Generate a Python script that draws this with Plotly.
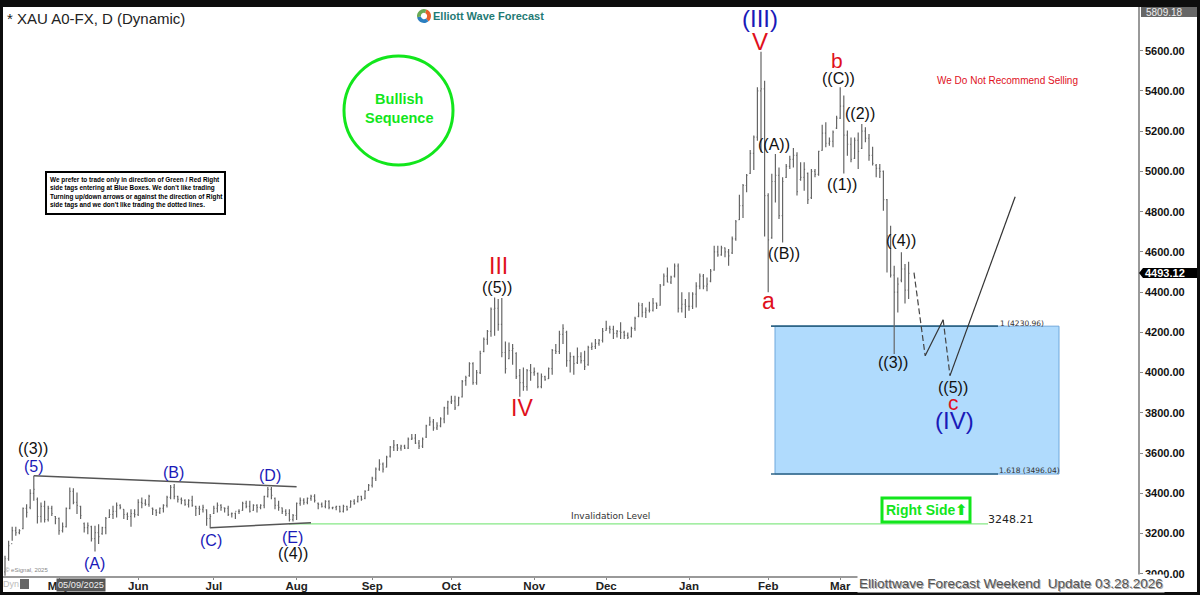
import pandas as pd
import plotly.graph_objects as go

# daily XAU bars, 2025-04-10 to 2026-03-27
dates = pd.bdate_range("2025-04-10", "2026-03-27")

opens = [3010, 3075, 3150, 3215, 3205, 3225, 3325, 3330, 3400, 3370, 3285, 3335, 3270, 3325, 3285, 3275, 3215, 3235, 3325, 3410, 3355, 3335, 3250, 3230, 3235, 3175, 3205, 3200, 3230, 3280, 3295, 3310, 3340, 3320, 3295, 3285, 3300, 3295, 3355, 3350, 3345, 3325, 3315, 3305, 3325, 3340, 3380, 3430, 3385, 3370, 3365, 3345, 3365, 3335, 3325, 3320, 3318, 3275, 3300, 3325, 3340, 3328, 3325, 3298, 3300, 3310, 3315, 3350, 3335, 3315, 3340, 3330, 3340, 3385, 3420, 3375, 3340, 3328, 3310, 3300, 3270, 3290, 3350, 3365, 3355, 3375, 3385, 3350, 3345, 3335, 3360, 3328, 3330, 3335, 3310, 3335, 3330, 3360, 3360, 3385, 3375, 3415, 3440, 3475, 3520, 3545, 3530, 3585, 3630, 3640, 3625, 3635, 3625, 3670, 3675, 3650, 3635, 3680, 3740, 3755, 3725, 3735, 3770, 3825, 3855, 3860, 3836, 3880, 3960, 3985, 4045, 3950, 4000, 4105, 4165, 4205, 4315, 4320, 4240, 4100, 4070, 4110, 4095, 3985, 3950, 3930, 4010, 4000, 3995, 3930, 3980, 3970, 4020, 4110, 4105, 4190, 4200, 4060, 4080, 4050, 4080, 4060, 4040, 4125, 4130, 4145, 4160, 4210, 4220, 4215, 4195, 4205, 4200, 4185, 4180, 4220, 4280, 4335, 4300, 4310, 4310, 4345, 4335, 4435, 4480, 4450, 4480, 4530, 4320, 4340, 4330, 4330, 4390, 4430, 4480, 4430, 4455, 4510, 4600, 4585, 4620, 4600, 4595, 4665, 4760, 4830, 4930, 4990, 5090, 5170, 5400, 5410, 4880, 4670, 4950, 4980, 4780, 4970, 5025, 5060, 5080, 4960, 4970, 4990, 4870, 5000, 4985, 5105, 5190, 5140, 5150, 5215, 5265, 5325, 5180, 5135, 5065, 5155, 5115, 5200, 5165, 5080, 5030, 5015, 5000, 4860, 4680, 4485, 4400, 4460, 4515, 4410]
highs = [3090, 3164, 3234, 3234, 3222, 3330, 3346, 3421, 3487, 3380, 3355, 3363, 3338, 3338, 3288, 3280, 3255, 3330, 3429, 3426, 3404, 3338, 3255, 3255, 3239, 3239, 3247, 3234, 3283, 3321, 3338, 3355, 3346, 3321, 3305, 3321, 3321, 3371, 3380, 3371, 3393, 3330, 3321, 3330, 3346, 3388, 3442, 3446, 3388, 3380, 3371, 3371, 3388, 3338, 3338, 3343, 3321, 3297, 3338, 3355, 3346, 3330, 3338, 3305, 3305, 3321, 3358, 3363, 3363, 3346, 3346, 3346, 3388, 3432, 3432, 3380, 3363, 3330, 3321, 3321, 3297, 3355, 3380, 3376, 3380, 3393, 3396, 3355, 3355, 3366, 3366, 3333, 3338, 3338, 3343, 3338, 3366, 3371, 3388, 3388, 3416, 3446, 3482, 3529, 3570, 3553, 3587, 3636, 3665, 3645, 3642, 3642, 3678, 3695, 3695, 3665, 3678, 3741, 3781, 3769, 3753, 3778, 3831, 3860, 3885, 3885, 3880, 3963, 3985, 4051, 4051, 4013, 4109, 4175, 4212, 4324, 4374, 4366, 4371, 4155, 4150, 4142, 4101, 4018, 4026, 4018, 4043, 4026, 4001, 3996, 3985, 4026, 4117, 4142, 4208, 4241, 4208, 4101, 4084, 4125, 4101, 4109, 4134, 4150, 4167, 4167, 4222, 4258, 4233, 4233, 4212, 4250, 4208, 4200, 4228, 4278, 4349, 4346, 4324, 4352, 4371, 4349, 4440, 4493, 4523, 4482, 4543, 4543, 4399, 4366, 4399, 4399, 4449, 4493, 4490, 4473, 4515, 4631, 4631, 4631, 4622, 4614, 4676, 4758, 4884, 4937, 4987, 5106, 5178, 5418, 5595, 5451, 4891, 4989, 5086, 5020, 4971, 5037, 5078, 5116, 5095, 5045, 5045, 4995, 5012, 5012, 5103, 5232, 5244, 5169, 5203, 5277, 5418, 5377, 5203, 5169, 5169, 5194, 5236, 5219, 5186, 5123, 5037, 5037, 5004, 4863, 4730, 4531, 4473, 4598, 4540, 4551]
lows = [2990, 3065, 3164, 3189, 3197, 3222, 3280, 3321, 3363, 3250, 3255, 3255, 3260, 3288, 3247, 3194, 3205, 3230, 3321, 3346, 3297, 3272, 3205, 3197, 3161, 3111, 3148, 3194, 3197, 3277, 3272, 3280, 3321, 3272, 3267, 3234, 3280, 3288, 3326, 3338, 3333, 3293, 3288, 3297, 3305, 3330, 3371, 3371, 3355, 3346, 3338, 3330, 3333, 3288, 3293, 3305, 3239, 3227, 3297, 3305, 3313, 3305, 3288, 3280, 3272, 3297, 3313, 3326, 3305, 3313, 3305, 3321, 3326, 3380, 3371, 3321, 3313, 3297, 3288, 3260, 3260, 3267, 3338, 3343, 3346, 3363, 3355, 3321, 3330, 3326, 3321, 3321, 3316, 3305, 3305, 3313, 3330, 3343, 3355, 3363, 3371, 3413, 3429, 3462, 3512, 3504, 3529, 3578, 3611, 3611, 3612, 3620, 3620, 3665, 3645, 3620, 3625, 3675, 3736, 3711, 3715, 3728, 3748, 3791, 3844, 3814, 3836, 3877, 3935, 3980, 3940, 3940, 3993, 4101, 4139, 4178, 4183, 4208, 4076, 3996, 4067, 4039, 3968, 3880, 3910, 3910, 3960, 3985, 3923, 3923, 3960, 3968, 3990, 4092, 4092, 4142, 4029, 4001, 3990, 4043, 4046, 4013, 4034, 4112, 4117, 4134, 4150, 4208, 4195, 4167, 4175, 4167, 4167, 4167, 4175, 4208, 4275, 4275, 4271, 4299, 4304, 4316, 4333, 4432, 4449, 4440, 4473, 4299, 4299, 4271, 4308, 4316, 4324, 4415, 4415, 4404, 4449, 4506, 4576, 4581, 4573, 4531, 4589, 4656, 4758, 4768, 4896, 4987, 5007, 5153, 5095, 4676, 4399, 4666, 4846, 4763, 4647, 4967, 5012, 5020, 4880, 4954, 4904, 4838, 4863, 4971, 4979, 5103, 5120, 5128, 5120, 5211, 5261, 4990, 5078, 5045, 5062, 5012, 5111, 5145, 5053, 5029, 4971, 4967, 4805, 4498, 4473, 4092, 4299, 4449, 4344, 4366]
closes = [3075, 3140, 3215, 3205, 3215, 3325, 3305, 3400, 3420, 3285, 3335, 3270, 3325, 3300, 3275, 3215, 3235, 3325, 3410, 3355, 3340, 3290, 3230, 3240, 3175, 3205, 3185, 3230, 3275, 3295, 3310, 3340, 3330, 3295, 3285, 3300, 3295, 3355, 3350, 3345, 3385, 3320, 3305, 3325, 3340, 3380, 3430, 3385, 3370, 3365, 3345, 3365, 3340, 3325, 3320, 3330, 3275, 3285, 3325, 3340, 3330, 3325, 3295, 3300, 3310, 3310, 3350, 3335, 3310, 3340, 3330, 3340, 3385, 3420, 3390, 3340, 3330, 3310, 3300, 3270, 3290, 3350, 3365, 3355, 3375, 3385, 3365, 3345, 3335, 3360, 3330, 3330, 3335, 3310, 3335, 3320, 3360, 3350, 3385, 3370, 3410, 3440, 3475, 3520, 3545, 3520, 3580, 3630, 3640, 3625, 3635, 3625, 3670, 3675, 3650, 3635, 3670, 3735, 3755, 3725, 3735, 3770, 3825, 3855, 3860, 3825, 3875, 3955, 3975, 4045, 3950, 4000, 4095, 4165, 4205, 4315, 4320, 4240, 4100, 4020, 4110, 4120, 3980, 3950, 3930, 4010, 4000, 4005, 3930, 3980, 3965, 4020, 4110, 4105, 4190, 4220, 4060, 4080, 4045, 4080, 4060, 4030, 4125, 4130, 4145, 4160, 4205, 4220, 4215, 4195, 4205, 4200, 4185, 4175, 4220, 4270, 4335, 4300, 4310, 4310, 4345, 4335, 4430, 4480, 4450, 4475, 4530, 4320, 4340, 4330, 4330, 4390, 4430, 4480, 4430, 4440, 4505, 4600, 4585, 4620, 4600, 4580, 4665, 4750, 4830, 4930, 4980, 5090, 5170, 5400, 5410, 4880, 4660, 4950, 4980, 4780, 4950, 5025, 5060, 5080, 4900, 4970, 5010, 4860, 5000, 4985, 5100, 5190, 5140, 5150, 5195, 5265, 5325, 5180, 5135, 5060, 5155, 5100, 5200, 5165, 5080, 5040, 5015, 5000, 4860, 4680, 4485, 4400, 4440, 4515, 4410, 4493.12]

tick_dates = ["2025-05-01", "2025-06-02", "2025-07-01", "2025-08-01", "2025-09-01", "2025-10-01",
              "2025-11-03", "2025-12-01", "2026-01-01", "2026-02-02", "2026-03-02"]
tick_labels = ["May", "Jun", "Jul", "Aug", "Sep", "Oct", "Nov", "Dec", "Jan", "Feb", "Mar"]
price_ticks = [3000, 3200, 3400, 3600, 3800, 4000, 4200, 4400, 4600, 4800, 5000, 5200, 5400, 5600]

fib_1 = 4230.96
fib_1618 = 3496.04
invalidation = 3248.21
last_price = 4493.12
top_price = 5809.18

# triangle lines and projected path, in bar number / price
upper_x, upper_y = [8, 81], [3488, 3433]
lower_x, lower_y = [57, 85], [3229, 3254]
dash_x = [252.5, 255.6, None, 260.6, 262.5]
dash_y = [4497, 4084, None, 4263, 3985]
solid_x = [255.6, 260.6, None, 262.5, 280.6]
solid_y = [4084, 4263, None, 3985, 4874]

BLUE = "#1a1ab8"
RED = "#e0101c"
BLACK = "#111111"
# wave labels: text, colour, font size, x and y in window pixels
wave_labels = [
    ("(III)", BLUE, 24, 760, 19), ("V", RED, 24, 760, 41), ("b", RED, 21, 837, 60),
    ("((C))", BLACK, 16, 838, 79), ("((2))", BLACK, 16, 860, 113), ("((A))", BLACK, 16, 774, 144),
    ("((1))", BLACK, 16, 842, 184), ("((B))", BLACK, 16, 784, 253), ("((4))", BLACK, 16, 901, 240),
    ("((3))", BLACK, 16, 893, 363), ("((5))", BLACK, 16, 953, 388), ("c", RED, 21, 953, 402),
    ("(IV)", BLUE, 24, 954, 420), ("a", RED, 23, 768, 301), ("III", RED, 23, 498, 266),
    ("((5))", BLACK, 16, 497, 287), ("IV", RED, 23, 522, 408), ("((3))", BLACK, 16, 33, 449),
    ("(5)", BLUE, 16, 34, 466), ("(A)", BLUE, 16, 94, 563), ("(B)", BLUE, 16, 173, 472),
    ("(C)", BLUE, 16, 211, 540), ("(D)", BLUE, 16, 270, 475), ("(E)", BLUE, 16, 292, 537),
    ("((4))", BLACK, 16, 293, 553),
]

FONT = "Liberation Sans"
LEFT, RIGHT, TOP, BOTTOM = 3, 1138, 7, 576


def fx(px):
    return (px - LEFT) / (RIGHT - LEFT)


def fy(py):
    return (BOTTOM - py) / (BOTTOM - TOP)


def bar_at(px):
    # bars are 3.6 px apart, first one at x=5
    return (px - 5) / 3.6


def label(fig, text, px, py, size, color, anchor="center", **kw):
    font = dict(family=kw.pop("family", FONT), size=size, color=color, shadow=kw.pop("shadow", "none"))
    fig.add_annotation(text=text, xref="paper", yref="paper", x=fx(px), y=fy(py), showarrow=False,
                       xanchor=anchor, yanchor="middle", font=font, **kw)


def box(fig, x0, y0, x1, y1, **kw):
    fig.add_shape(type="rect", xref="paper", yref="paper", x0=fx(x0), y0=fy(y0), x1=fx(x1), y1=fy(y1), **kw)


fig = go.Figure()

# fib box first so the bars sit on top
fig.add_shape(type="rect", x0=bar_at(775), x1=bar_at(1059), y0=fib_1618, y1=fib_1, layer="below",
              fillcolor="#b0dbfd", line=dict(color="#6fa8dc", width=1))
for level in [fib_1, fib_1618]:
    fig.add_shape(type="line", x0=bar_at(771), x1=bar_at(998), y0=level, y1=level, layer="below",
                  line=dict(color="#2f6586", width=1.6))
fig.add_shape(type="line", x0=bar_at(289), x1=bar_at(988), y0=invalidation, y1=invalidation, layer="below",
              line=dict(color="#86e886", width=1.2))

fig.add_trace(go.Ohlc(x=list(range(len(highs))), open=opens, high=highs, low=lows, close=closes, tickwidth=0.25,
                      increasing_line=dict(color="#666666", width=1.2), decreasing_line=dict(color="#666666", width=1.2),
                      showlegend=False))

for xs, ys in [(upper_x, upper_y), (lower_x, lower_y)]:
    fig.add_trace(go.Scatter(x=xs, y=ys, mode="lines", line=dict(color="#555555", width=1.5), showlegend=False))
fig.add_trace(go.Scatter(x=dash_x, y=dash_y, mode="lines", line=dict(color="#444444", width=1.2, dash="6px,3px"), showlegend=False))
fig.add_trace(go.Scatter(x=solid_x, y=solid_y, mode="lines", line=dict(color="#333333", width=1.2), showlegend=False))

# small logo ring next to the brand name (pie domain is relative to the plot area)
fig.add_trace(go.Pie(values=[1, 1, 1], hole=0.45, sort=False, textinfo="none", showlegend=False, direction="clockwise",
                     rotation=20, marker=dict(colors=["#e8602c", "#2b7fc0", "#6aaa55"]),
                     domain=dict(x=[fx(417), fx(431)], y=[fy(23), fy(9)])))

for text, color, size, px, py in wave_labels:
    label(fig, text, px, py, size, color)

label(fig, "* XAU A0-FX, D (Dynamic)", 5, 19, 15, "#222222", anchor="left")
label(fig, "<b>Elliott Wave Forecast</b>", 488, 16, 11, "#1f7a74")

# bullish circle
fig.add_shape(type="circle", xref="paper", yref="paper", x0=fx(344), x1=fx(453), y0=fy(165), y1=fy(56),
              line=dict(color="#12e61c", width=3))
label(fig, "<b>Bullish<br>Sequence</b>", 399, 108, 14.5, "#12e61c")

label(fig, "We Do Not Recommend Selling", 1007, 81, 10, RED)

box(fig, 46, 172, 225, 214, fillcolor="white", line=dict(color="black", width=2))
label(fig, "<b>We prefer to trade only in direction of Green / Red Right<br>side tags entering at Blue Boxes. We don't like trading<br>"
           "Turning up/down arrows or against the direction of Right<br>side tags and we don't like trading the dotted lines.</b>",
      48, 193, 6.4, "black", anchor="left", align="left")

label(fig, "1 (4230.96)", 1022, 323, 7.5, "#333333", family="DejaVu Sans")
label(fig, "1.618 (3496.04)", 1029, 470, 7.5, "#333333", family="DejaVu Sans")
label(fig, "Invalidation Level", 610, 516, 9, "#333333", family="DejaVu Sans")
label(fig, "3248.21", 1011, 519, 11, "#222222", family="DejaVu Sans")

box(fig, 882, 498, 970, 522, fillcolor="white", line=dict(color="#12e61c", width=3))
label(fig, "<b>Right Side</b>", 920, 510, 14, "#12e61c")
label(fig, "<b>⬆</b>", 961, 510, 15, "#12e61c", family="DejaVu Sans")

label(fig, "© eSignal, 2025", 26, 570, 6, "#888888")
label(fig, "Dyn", 11, 584, 9, "#bbbbbb")
box(fig, 20, 579, 29, 589, fillcolor="#666666", line_width=0)
label(fig, "05/09/2025", 81, 585, 9.2, "#eeeeee", bgcolor="#555555", borderpad=1)

label(fig, "Elliottwave Forecast Weekend  Update 03.28.2026", 1011, 584, 13.5, "#555555", bgcolor="white",
      shadow="1px 1px 0px #aaaaaa")

# frame and price tags
for x0, y0, x1, y1 in [(0, 0, 1200, 7), (0, 592, 1200, 595), (0, 0, 3, 595), (1197, 0, 1200, 595)]:
    box(fig, x0, y0, x1, y1, fillcolor="#0d0d0d", line_width=0, layer="above")
box(fig, 1141, 7, 1197, 17, fillcolor="#666666", line_width=0, layer="above")
label(fig, f"{top_price:.2f}", 1144, 12.5, 10, "#eeeeee", anchor="left")
box(fig, 1143, 268, 1197, 278, fillcolor="black", line_width=0, layer="above")
fig.add_shape(type="path", xref="paper", yref="paper", layer="above", fillcolor="black", line_width=0,
              path=f"M {fx(1143)} {fy(268)} L {fx(1139)} {fy(273)} L {fx(1143)} {fy(278)} Z")
label(fig, f"<b>{last_price:.2f}</b>", 1143, 273, 11, "white", anchor="left")

fig.update_layout(
    width=1200,
    height=595,
    margin=dict(l=LEFT, r=1200 - RIGHT, t=TOP, b=595 - BOTTOM, autoexpand=False),
    paper_bgcolor="white",
    plot_bgcolor="white",
    showlegend=False,
    font=dict(family=FONT),
)
fig.update_xaxes(
    range=[bar_at(LEFT), bar_at(RIGHT)],
    rangeslider_visible=False,
    tickmode="array",
    tickvals=[dates.get_loc(pd.Timestamp(d)) for d in tick_dates],
    ticktext=tick_labels,
    ticks="outside", ticklen=2, tickcolor="#888888",
    ticklabelstandoff=-4,
    tickfont=dict(family=FONT, size=11.5, color="#222222", weight="bold"),
    showgrid=False, zeroline=False, showline=True, linecolor="#999999", linewidth=1.5,
)
fig.update_yaxes(
    range=[5852 - 4.97 * BOTTOM, 5852 - 4.97 * TOP],
    side="right",
    tickmode="array",
    tickvals=price_ticks,
    tickformat=".2f",
    ticks="outside", ticklen=3, tickcolor="#888888",
    tickfont=dict(family=FONT, size=11, color="#111111", weight="bold"),
    showgrid=False, zeroline=False, showline=True, linecolor="#999999", linewidth=1.5,
)

# page has a default body margin, drop it so the figure fills the window
fig.write_html("out.html", config={"displayModeBar": False},
               post_script="document.body.style.margin='0';document.body.style.overflow='hidden';")
